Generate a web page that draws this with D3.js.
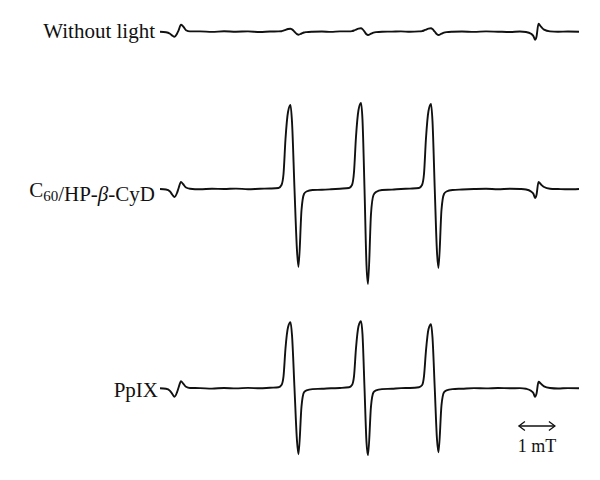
<!DOCTYPE html>
<html>
<head>
<meta charset="utf-8">
<script src="https://cdn.jsdelivr.net/npm/d3@7"></script>
<style>
  body { margin: 0; background: #fff; }
  svg { display: block; }
  text { font-family: 'Liberation Serif', 'Times New Roman', serif; fill: #111; }
</style>
</head>
<body>
<div id="chart"></div>
<script>
// magnetic field, mT (relative to start of sweep)
const field = [
  0, 0.167, 0.278, 0.347, 0.403, 0.472, 0.514, 0.583, 0.639, 0.722, 0.833,
  1.111, 1.444, 1.778, 2.111, 2.444, 2.778, 3.056,
  3.292, 3.375, 3.431, 3.486, 3.556, 3.625, 3.667, 3.736, 3.806, 3.847, 3.931, 4.000, 4.069, 4.236,
  4.5, 4.75, 5.0,
  5.25, 5.333, 5.389, 5.444, 5.514, 5.583, 5.625, 5.681, 5.736, 5.778, 5.861, 5.931, 6.0, 6.167,
  6.444, 6.694, 6.944,
  7.194, 7.278, 7.333, 7.389, 7.458, 7.528, 7.569, 7.632, 7.694, 7.736, 7.819, 7.889, 7.958, 8.125,
  8.389, 8.722, 9.056, 9.389, 9.722, 10.0,
  10.167, 10.306, 10.375, 10.417, 10.458, 10.514, 10.583, 10.667, 10.833,
  11.056, 11.333, 11.639
]

// signal intensity (a.u.)
const withoutLight = [
  0, -0.5, -2, -4, -5, -2, 1, 7, 5.5, 1.5, 0.3,
  0.3, -0.2, 0.4, 0, 0.3, -0.3, 0.2,
  0.3, 0.5, 1, 1.8, 2.7, 3, 2.3, 0, -2.4, -3, -1.8, -0.8, -0.4, 0,
  0.2, -0.2, 0.3,
  0.3, 0.6, 1.2, 2.1, 3.1, 3.4, 2.6, 0, -2.6, -3.3, -2, -0.9, -0.4, 0,
  0.1, 0.3, -0.1,
  0.3, 0.6, 1.2, 2.1, 3.1, 3.4, 2.6, 0, -2.6, -3.3, -2, -0.9, -0.4, 0,
  0.2, -0.2, 0.3, 0, -0.3, 0.2,
  -0.3, -2, -4.5, -8, -5, 8, 5, 2, 0.3,
  0, 0.2, 0
]
const c60CyD = [
  0, -0.5, -2.5, -6, -8, -4, 0.5, 7, 5, 1.5, 0.3,
  -0.3, 0.3, 0, 0.4, -0.2, 0.3, 0.5,
  1, 4, 15, 50, 77, 84, 67, 0, -62, -78, -21, -5, -2.5, -1,
  -0.8, -0.3, 0.3,
  1, 4, 17, 52, 79, 86, 69, 0, -76, -95, -25, -6, -3, -1,
  -0.6, 0, 0.4,
  1, 4, 15, 51, 78, 85, 68, 0, -63, -79, -21, -5, -2.5, -1,
  -0.5, 0, 0.3, -0.2, 0.3, 0,
  -0.5, -2.5, -5, -9, -6, 7, 4.5, 2, 0.3,
  0, -0.3, 0
]
const ppix = [
  0, -0.5, -2.5, -6, -8.5, -4, 0.5, 7, 5, 1.5, 0.3,
  0.2, -0.3, 0.3, -0.1, 0.4, 0, 0.6,
  1, 3.3, 12, 40, 61, 66, 53, 0, -53, -66, -18, -4, -2, -0.8,
  -0.5, 0, 0.3,
  1, 3.3, 12, 40, 62, 67, 54, 0, -54, -67, -18, -4, -2, -0.8,
  -0.4, 0.2, 0.3,
  1, 3, 12, 38, 59, 64, 51, 0, -51, -64, -17, -4, -2, -0.8,
  -0.4, 0.2, -0.1, 0.3, 0, 0.2,
  -0.5, -2.5, -5, -8.5, -5.5, 6.5, 4.5, 2, 0.3,
  -0.2, 0.2, 0
]

const labels = ['Without light', 'C60/HP-β-CyD', 'PpIX']
const scaleLabel = '1 mT'

const width = 600
const height = 480

let svg = d3.select('#chart').append('svg')
  .attr('width', width)
  .attr('height', height)

let x = d3.scaleLinear().domain([0, 11.639]).range([160, 579])
let y = d3.scaleLinear().domain([-100, 100]).range([100, -100])

let line = d3.line()
  .x(function (d) { return x(d[0]) })
  .y(function (d) { return y(d[1]) })
  .curve(d3.curveMonotoneX)

let series = [withoutLight, c60CyD, ppix]
let baselines = [31.7, 189, 388.3]
let labelDy = [6, 8, 8.3]

series.forEach(function (vals, i) {
  let g = svg.append('g').attr('transform', 'translate(0,' + baselines[i] + ')')
  g.append('path')
    .datum(field.map(function (f, j) { return [f, vals[j]] }))
    .attr('d', line)
    .attr('fill', 'none')
    .attr('stroke', '#111')
    .attr('stroke-width', 1.9)
    .attr('stroke-linejoin', 'round')

  let t = g.append('text')
    .attr('x', i === 2 ? 158 : 155)
    .attr('y', labelDy[i])
    .attr('text-anchor', 'end')
    .attr('font-size', 21)
  // subscript digits and italic beta
  labels[i].split(/(60|β)/).forEach(function (part) {
    if (!part) return
    if (part === '60') {
      t.append('tspan').attr('font-size', 15).attr('dy', 4).text(part)
      t.append('tspan').attr('dy', -4).attr('dx', 1.5).text('')
    } else if (part === 'β') {
      t.append('tspan').attr('font-style', 'italic').text(part)
    } else {
      t.append('tspan').text(part)
    }
  })
})

// 1 mT scale bar
let barStart = 9.97
let bx0 = x(barStart)
let bx1 = x(barStart + 1)
let by = 426
let bar = svg.append('g')
  .attr('fill', 'none')
  .attr('stroke', '#111')
  .attr('stroke-width', 1.3)
bar.append('line').attr('x1', bx0).attr('x2', bx1).attr('y1', by).attr('y2', by)
bar.append('path').attr('d', 'M' + (bx0 + 6) + ',' + (by - 4.5) + 'L' + bx0 + ',' + by + 'L' + (bx0 + 6) + ',' + (by + 4.5))
bar.append('path').attr('d', 'M' + (bx1 - 6) + ',' + (by - 4.5) + 'L' + bx1 + ',' + by + 'L' + (bx1 - 6) + ',' + (by + 4.5))

svg.append('text')
  .attr('x', (bx0 + bx1) / 2)
  .attr('y', 451.5)
  .attr('text-anchor', 'middle')
  .attr('font-size', 18)
  .text(scaleLabel)
</script>
</body>
</html>
